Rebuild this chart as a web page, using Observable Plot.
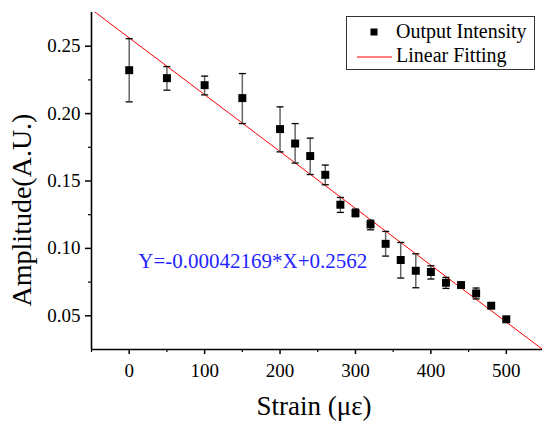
<!DOCTYPE html>
<html><head><meta charset="utf-8">
<script src="https://cdn.jsdelivr.net/npm/d3@7"></script>
<script src="https://cdn.jsdelivr.net/npm/@observablehq/plot@0.6"></script>
<style>body{margin:0;background:#fff} #chart{width:542px;height:421px}</style>
</head><body><div id="chart"></div>
<script>
const strain = [0,50,100,150,200,220,240,260,280,300,320,340,360,380,400,420,440,460,480,500];
const amplitude = [0.2322,0.2263,0.2211,0.2115,0.1885,0.1778,0.1685,0.1546,0.1324,0.1262,0.1178,0.1034,0.0914,0.0834,0.0825,0.0745,0.0728,0.0666,0.0575,0.0474];
const upper = [0.2556,0.2349,0.2278,0.2297,0.2050,0.1926,0.1818,0.1618,0.1378,0.1292,0.1210,0.1126,0.1044,0.0960,0.0871,0.0785,0.0740,0.0706,0.0592,0.0486];
const lower = [0.2087,0.2174,0.2139,0.1926,0.1716,0.1633,0.1548,0.1472,0.1267,0.1235,0.1138,0.0943,0.0780,0.0708,0.0773,0.0703,0.0716,0.0625,0.0558,0.0462];
const fitSlope = -0.00042169;
const fitIntercept = 0.2562;
const xDomain = [-50, 548];
const yDomain = [0.025, 0.275];
const xTicks = [0,100,200,300,400,500];
const xMinorTicks = [-50,50,150,250,350,450];
const yTicks = [0.05,0.10,0.15,0.20,0.25];
const yMinorTicks = [0.075,0.125,0.175,0.225];
const equationLabel = "Y=-0.00042169*X+0.2562";
const legendLabels = ["Output Intensity","Linear Fitting"];
const xLabel = "Strain (\u03BC\u03B5)";
const yLabel = "Amplitude(A.U.)";

const points = strain.map((x,i)=>({x, y: amplitude[i], hi: upper[i], lo: lower[i]}));
const fit = xDomain.map(x=>({x, y: fitSlope*x + fitIntercept}));
const capSymbol = {draw(ctx, size){ const r = Math.sqrt(size/Math.PI); ctx.moveTo(-r,0); ctx.lineTo(r,0); }};
const font = 'Times New Roman, DejaVu Serif';

const plot = Plot.plot({
  width: 542, height: 421,
  marginLeft: 91, marginRight: 0, marginTop: 12, marginBottom: 72,
  style: {fontFamily: font, background: "#fff", color: "#000"},
  x: {domain: xDomain},
  y: {domain: yDomain},
  marks: [
    Plot.axisX({ticks: xTicks, tickSize: 5, tickPadding: 9, fontSize: 19, label: null, tickFormat: d=>String(d), stroke:"#000", strokeWidth:1.5}),
    Plot.axisX({ticks: xMinorTicks, tickSize: 3, tickFormat: () => "", label: null, strokeWidth:1.2}),
    Plot.axisY({ticks: yTicks, tickSize: 6, tickPadding: 5, fontSize: 19, label: null, tickFormat: d3.format(".2f"), strokeWidth:1.5}),
    Plot.axisY({ticks: yMinorTicks, tickSize: 3, tickFormat: () => "", label: null, strokeWidth:1.2}),
    Plot.ruleX([xDomain[0]], {stroke: "#000", strokeWidth: 1.6}),
    Plot.ruleY([yDomain[0]], {stroke: "#000", strokeWidth: 1.6}),
    Plot.line(fit, {x: "x", y: "y", stroke: "#ff0000", strokeWidth: 1, clip: true}),
    Plot.ruleX(points, {x: "x", y1: "lo", y2: "hi", stroke: "#666", strokeWidth: 1.5}),
    Plot.dot(points, {x: "x", y: "hi", symbol: capSymbol, r: 3.5, stroke: "#000", strokeWidth: 1.3, fill: "none"}),
    Plot.dot(points, {x: "x", y: "lo", symbol: capSymbol, r: 3.5, stroke: "#000", strokeWidth: 1.3, fill: "none"}),
    Plot.dot(points, {x: "x", y: "y", symbol: "square", r: 4.5, fill: "#000", stroke: "none"}),
    Plot.text([equationLabel], {x: 12, y: 0.0905, text: d=>d, textAnchor: "start", fontSize: 21, fill: "#2424ff", fontFamily: font})
  ]
});

const svg = d3.select(plot);
svg.append("text").attr("transform","translate(31,210) rotate(-90)").attr("text-anchor","middle")
  .style("font-family",font).attr("font-size",28).attr("fill","#000").text(yLabel);
svg.append("text").attr("x",314).attr("y",415).attr("text-anchor","middle")
  .style("font-family",font).attr("font-size",27).attr("fill","#000").text(xLabel);
const lg = svg.append("g").attr("text-anchor","start");
lg.append("rect").attr("x",346.5).attr("y",16.5).attr("width",188).attr("height",53).attr("fill","#fff").attr("stroke","#333").attr("stroke-width",1);
lg.append("rect").attr("x",370.5).attr("y",28.5).attr("width",7).attr("height",7).attr("fill","#000");
lg.append("line").attr("x1",357).attr("x2",392).attr("y1",57).attr("y2",57).attr("stroke","#ff0000").attr("stroke-width",1);
lg.append("text").attr("x",396).attr("y",38).attr("text-anchor","start").style("font-family",font).attr("font-size",20).attr("fill","#000").text(legendLabels[0]);
lg.append("text").attr("x",396).attr("y",62).attr("text-anchor","start").style("font-family",font).attr("font-size",20).attr("fill","#000").text(legendLabels[1]);

document.getElementById("chart").appendChild(plot);
</script>
</body></html>
